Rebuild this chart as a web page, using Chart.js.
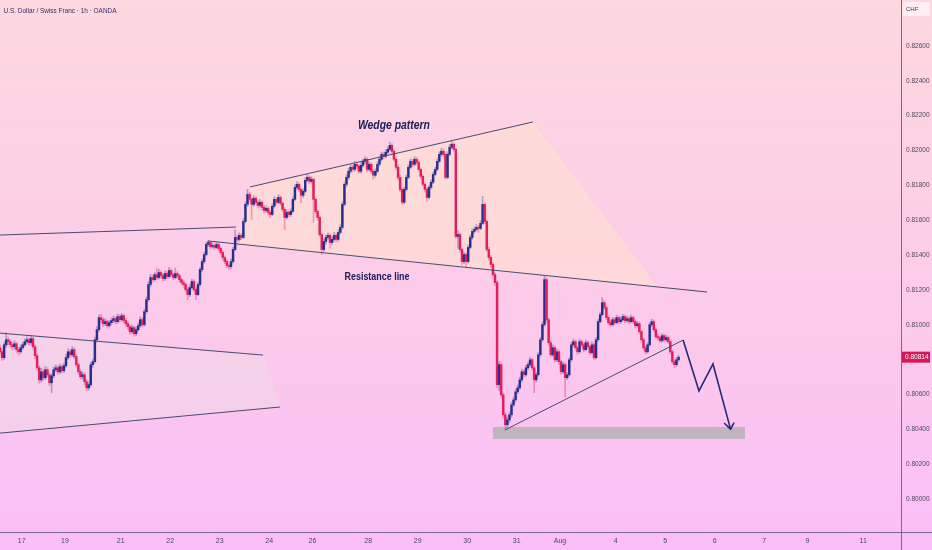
<!DOCTYPE html>
<html><head><meta charset="utf-8">
<script src="https://cdn.jsdelivr.net/npm/chart.js@4.4.1/dist/chart.umd.min.js"></script>
<style>
html,body{margin:0;padding:0;}
body{width:932px;height:550px;overflow:hidden;background:linear-gradient(to bottom,#fdd8e0 0%,#fccbe9 55%,#fbbef8 100%);}
canvas{display:block;}
</style></head><body>
<canvas id="c" width="932" height="550"></canvas>
<script>
// ---- USD/CHF 1h candles (bar index = hours from left edge) ----
const opens = [
0.80868,0.80845,0.80811,0.80885,0.80914,0.80903,0.80885,0.80874,0.80891,0.80857,
0.80845,0.80868,0.80885,0.80903,0.80914,0.80897,0.80920,0.80874,0.80822,0.80753,
0.80684,0.80730,0.80696,0.80742,0.80713,0.80667,0.80707,0.80742,0.80753,0.80730,
0.80759,0.80736,0.80765,0.80811,0.80845,0.80828,0.80857,0.80817,0.80771,0.80730,
0.80702,0.80713,0.80673,0.80638,0.80656,0.80771,0.80788,0.80914,0.80972,0.81041,
0.81029,0.81006,0.81018,0.80995,0.81012,0.81024,0.81035,0.81018,0.81047,0.81029,
0.81052,0.81024,0.81006,0.80989,0.80960,0.80983,0.80949,0.80972,0.80995,0.81029,
0.81001,0.81075,0.81144,0.81231,0.81271,0.81259,0.81288,0.81271,0.81300,0.81282,
0.81265,0.81294,0.81277,0.81311,0.81288,0.81271,0.81294,0.81282,0.81259,0.81242,
0.81231,0.81202,0.81173,0.81213,0.81248,0.81202,0.81173,0.81231,0.81317,0.81363,
0.81403,0.81461,0.81472,0.81449,0.81455,0.81444,0.81461,0.81438,0.81415,0.81386,
0.81363,0.81340,0.81334,0.81363,0.81432,0.81501,0.81490,0.81513,0.81501,0.81593,
0.81691,0.81748,0.81720,0.81691,0.81726,0.81703,0.81685,0.81703,0.81674,0.81656,
0.81668,0.81645,0.81633,0.81680,0.81720,0.81703,0.81731,0.81697,0.81662,0.81616,
0.81645,0.81633,0.81651,0.81720,0.81789,0.81806,0.81777,0.81743,0.81766,0.81829,
0.81846,0.81823,0.81835,0.81720,0.81651,0.81616,0.81518,0.81432,0.81478,0.81501,
0.81513,0.81472,0.81490,0.81513,0.81490,0.81530,0.81559,0.81691,0.81806,0.81846,
0.81881,0.81904,0.81892,0.81921,0.81910,0.81881,0.81915,0.81938,0.81950,0.81892,
0.81921,0.81881,0.81858,0.81881,0.81921,0.81950,0.81978,0.81967,0.81990,0.82007,
0.82030,0.81996,0.81950,0.81904,0.81846,0.81777,0.81703,0.81777,0.81846,0.81904,
0.81938,0.81921,0.81950,0.81932,0.81892,0.81852,0.81806,0.81777,0.81731,0.81789,
0.81818,0.81863,0.81892,0.81938,0.81978,0.81996,0.81978,0.81846,0.81978,0.82019,
0.82036,0.82007,0.81507,0.81518,0.81432,0.81363,0.81403,0.81363,0.81444,0.81501,
0.81536,0.81547,0.81559,0.81553,0.81582,0.81691,0.81593,0.81432,0.81386,0.81346,
0.81288,0.81242,0.80656,0.80771,0.80598,0.80483,0.80426,0.80454,0.80483,0.80540,
0.80569,0.80615,0.80638,0.80684,0.80730,0.80713,0.80753,0.80771,0.80799,0.80753,
0.80684,0.80713,0.80828,0.80914,0.81001,0.81259,0.81029,0.80897,0.80828,0.80868,
0.80799,0.80845,0.80788,0.80730,0.80771,0.80696,0.80713,0.80799,0.80885,0.80903,
0.80868,0.80845,0.80903,0.80885,0.80857,0.80897,0.80874,0.80840,0.80885,0.80811,
0.80914,0.81018,0.81058,0.81127,0.81098,0.81041,0.81012,0.81001,0.81029,0.81012,
0.81041,0.81018,0.81029,0.81047,0.81024,0.81035,0.81018,0.81041,0.81018,0.80995,
0.81006,0.80960,0.80914,0.80868,0.80845,0.80885,0.81001,0.81018,0.80972,0.80932,
0.80926,0.80909,0.80937,0.80914,0.80926,0.80903,0.80845,0.80788,0.80771,0.80799];
const highs = [
0.80885,0.80860,0.80900,0.80954,0.80930,0.80915,0.80898,0.80910,0.80900,0.80870,
0.80885,0.80898,0.80920,0.80932,0.80925,0.80940,0.80930,0.80885,0.80835,0.80765,
0.80750,0.80745,0.80760,0.80755,0.80725,0.80720,0.80758,0.80770,0.80765,0.80775,
0.80770,0.80780,0.80830,0.80862,0.80858,0.80875,0.80868,0.80828,0.80782,0.80745,
0.80730,0.80725,0.80685,0.80672,0.80785,0.80805,0.80930,0.80990,0.81058,0.81060,
0.81040,0.81035,0.81028,0.81025,0.81040,0.81052,0.81045,0.81062,0.81058,0.81066,
0.81060,0.81035,0.81018,0.81000,0.80998,0.80992,0.80988,0.81010,0.81045,0.81040,
0.81090,0.81160,0.81248,0.81290,0.81285,0.81300,0.81325,0.81318,0.81310,0.81295,
0.81310,0.81305,0.81330,0.81320,0.81298,0.81325,0.81305,0.81292,0.81268,0.81255,
0.81240,0.81212,0.81228,0.81262,0.81258,0.81215,0.81245,0.81330,0.81378,0.81418,
0.81475,0.81484,0.81480,0.81470,0.81465,0.81475,0.81470,0.81448,0.81425,0.81395,
0.81372,0.81350,0.81378,0.81445,0.81545,0.81515,0.81528,0.81525,0.81610,0.81705,
0.81777,0.81762,0.81730,0.81742,0.81735,0.81715,0.81720,0.81712,0.81685,0.81682,
0.81678,0.81655,0.81695,0.81735,0.81730,0.81748,0.81740,0.81705,0.81672,0.81660,
0.81655,0.81665,0.81735,0.81805,0.81822,0.81815,0.81785,0.81780,0.81845,0.81862,
0.81855,0.81850,0.81842,0.81730,0.81662,0.81625,0.81528,0.81492,0.81515,0.81528,
0.81522,0.81505,0.81530,0.81522,0.81545,0.81575,0.81705,0.81820,0.81862,0.81898,
0.81920,0.81915,0.81938,0.81930,0.81920,0.81930,0.81952,0.81965,0.81960,0.81935,
0.81930,0.81890,0.81895,0.81935,0.81965,0.81992,0.81990,0.82005,0.82022,0.82048,
0.82040,0.82005,0.81960,0.81915,0.81858,0.81785,0.81790,0.81860,0.81918,0.81952,
0.81948,0.81966,0.81960,0.81942,0.81900,0.81862,0.81815,0.81788,0.81802,0.81832,
0.81878,0.81905,0.81952,0.81992,0.82012,0.82008,0.81988,0.81992,0.82035,0.82053,
0.82045,0.82015,0.81540,0.81528,0.81440,0.81418,0.81412,0.81458,0.81515,0.81550,
0.81562,0.81575,0.81570,0.81598,0.81737,0.81700,0.81602,0.81445,0.81398,0.81356,
0.81300,0.81252,0.80790,0.80780,0.80610,0.80495,0.80470,0.80498,0.80555,0.80585,
0.80630,0.80655,0.80700,0.80745,0.80742,0.80768,0.80786,0.80815,0.80808,0.80765,
0.80728,0.80842,0.80928,0.81018,0.81282,0.81270,0.81040,0.80910,0.80885,0.80878,
0.80860,0.80855,0.80798,0.80785,0.80782,0.80728,0.80812,0.80900,0.80918,0.80912,
0.80878,0.80918,0.80912,0.80895,0.80912,0.80905,0.80882,0.80900,0.80895,0.80928,
0.81032,0.81072,0.81156,0.81140,0.81108,0.81052,0.81025,0.81042,0.81040,0.81055,
0.81050,0.81045,0.81060,0.81056,0.81050,0.81045,0.81055,0.81050,0.81028,0.81020,
0.81015,0.80970,0.80925,0.80878,0.80898,0.81015,0.81032,0.81028,0.80982,0.80945,
0.80935,0.80950,0.80945,0.80940,0.80935,0.80912,0.80855,0.80798,0.80812,0.80825];
const lows = [
0.80830,0.80795,0.80800,0.80870,0.80885,0.80870,0.80855,0.80862,0.80840,0.80826,
0.80835,0.80858,0.80875,0.80890,0.80880,0.80885,0.80860,0.80805,0.80740,0.80665,
0.80670,0.80680,0.80685,0.80700,0.80650,0.80610,0.80695,0.80730,0.80715,0.80720,
0.80722,0.80725,0.80755,0.80800,0.80815,0.80818,0.80805,0.80758,0.80715,0.80690,
0.80688,0.80655,0.80621,0.80625,0.80645,0.80755,0.80780,0.80900,0.80960,0.81010,
0.80990,0.80995,0.80980,0.80985,0.81000,0.81012,0.81005,0.81008,0.81015,0.81020,
0.81010,0.80992,0.80975,0.80945,0.80950,0.80935,0.80938,0.80962,0.80985,0.80990,
0.80990,0.81065,0.81135,0.81220,0.81245,0.81250,0.81260,0.81262,0.81270,0.81252,
0.81255,0.81265,0.81268,0.81275,0.81258,0.81262,0.81268,0.81245,0.81228,0.81215,
0.81188,0.81144,0.81162,0.81205,0.81190,0.81144,0.81165,0.81222,0.81305,0.81352,
0.81395,0.81450,0.81438,0.81440,0.81430,0.81435,0.81425,0.81402,0.81372,0.81350,
0.81325,0.81318,0.81320,0.81355,0.81425,0.81478,0.81480,0.81488,0.81495,0.81585,
0.81680,0.81705,0.81605,0.81680,0.81690,0.81672,0.81675,0.81660,0.81642,0.81645,
0.81630,0.81616,0.81625,0.81670,0.81690,0.81695,0.81685,0.81650,0.81547,0.81605,
0.81620,0.81622,0.81645,0.81712,0.81778,0.81765,0.81700,0.81730,0.81758,0.81820,
0.81810,0.81812,0.81588,0.81638,0.81600,0.81505,0.81403,0.81420,0.81462,0.81490,
0.81440,0.81458,0.81480,0.81475,0.81478,0.81520,0.81550,0.81682,0.81795,0.81835,
0.81870,0.81878,0.81882,0.81898,0.81868,0.81870,0.81905,0.81925,0.81878,0.81882,
0.81868,0.81835,0.81848,0.81872,0.81912,0.81940,0.81952,0.81958,0.81980,0.81998,
0.81985,0.81938,0.81890,0.81832,0.81762,0.81691,0.81695,0.81768,0.81838,0.81895,
0.81908,0.81912,0.81920,0.81880,0.81840,0.81795,0.81762,0.81708,0.81722,0.81780,
0.81810,0.81855,0.81885,0.81930,0.81968,0.81965,0.81835,0.81838,0.81970,0.82010,
0.81995,0.81495,0.81440,0.81415,0.81345,0.81350,0.81329,0.81355,0.81435,0.81490,
0.81525,0.81538,0.81530,0.81545,0.81575,0.81580,0.81420,0.81372,0.81330,0.81275,
0.81225,0.80640,0.80620,0.80585,0.80465,0.80397,0.80410,0.80440,0.80470,0.80530,
0.80560,0.80605,0.80628,0.80672,0.80700,0.80705,0.80742,0.80760,0.80740,0.80610,
0.80672,0.80705,0.80818,0.80905,0.80990,0.81015,0.80882,0.80815,0.80818,0.80785,
0.80790,0.80772,0.80715,0.80720,0.80587,0.80685,0.80705,0.80790,0.80875,0.80855,
0.80830,0.80838,0.80872,0.80845,0.80850,0.80860,0.80828,0.80832,0.80798,0.80802,
0.80905,0.81010,0.81050,0.81085,0.81030,0.81000,0.80988,0.80992,0.81000,0.81005,
0.81008,0.81008,0.81020,0.81012,0.81015,0.81005,0.81010,0.81006,0.80982,0.80985,
0.80948,0.80900,0.80855,0.80832,0.80838,0.80878,0.80990,0.80960,0.80920,0.80912,
0.80898,0.80900,0.80902,0.80905,0.80892,0.80832,0.80775,0.80753,0.80762,0.80790];
const closes = [
0.80845,0.80811,0.80885,0.80914,0.80903,0.80885,0.80874,0.80891,0.80857,0.80845,
0.80868,0.80885,0.80903,0.80914,0.80897,0.80920,0.80874,0.80822,0.80753,0.80684,
0.80730,0.80696,0.80742,0.80713,0.80667,0.80707,0.80742,0.80753,0.80730,0.80759,
0.80736,0.80765,0.80811,0.80845,0.80828,0.80857,0.80817,0.80771,0.80730,0.80702,
0.80713,0.80673,0.80638,0.80656,0.80771,0.80788,0.80914,0.80972,0.81041,0.81029,
0.81006,0.81018,0.80995,0.81012,0.81024,0.81035,0.81018,0.81047,0.81029,0.81052,
0.81024,0.81006,0.80989,0.80960,0.80983,0.80949,0.80972,0.80995,0.81029,0.81001,
0.81075,0.81144,0.81231,0.81271,0.81259,0.81288,0.81271,0.81300,0.81282,0.81265,
0.81294,0.81277,0.81311,0.81288,0.81271,0.81294,0.81282,0.81259,0.81242,0.81231,
0.81202,0.81173,0.81213,0.81248,0.81202,0.81173,0.81231,0.81317,0.81363,0.81403,
0.81461,0.81472,0.81449,0.81455,0.81444,0.81461,0.81438,0.81415,0.81386,0.81363,
0.81340,0.81334,0.81363,0.81432,0.81501,0.81490,0.81513,0.81501,0.81593,0.81691,
0.81748,0.81720,0.81691,0.81726,0.81703,0.81685,0.81703,0.81674,0.81656,0.81668,
0.81645,0.81633,0.81680,0.81720,0.81703,0.81731,0.81697,0.81662,0.81616,0.81645,
0.81633,0.81651,0.81720,0.81789,0.81806,0.81777,0.81743,0.81766,0.81829,0.81846,
0.81823,0.81835,0.81720,0.81651,0.81616,0.81518,0.81432,0.81478,0.81501,0.81513,
0.81472,0.81490,0.81513,0.81490,0.81530,0.81559,0.81691,0.81806,0.81846,0.81881,
0.81904,0.81892,0.81921,0.81910,0.81881,0.81915,0.81938,0.81950,0.81892,0.81921,
0.81881,0.81858,0.81881,0.81921,0.81950,0.81978,0.81967,0.81990,0.82007,0.82030,
0.81996,0.81950,0.81904,0.81846,0.81777,0.81703,0.81777,0.81846,0.81904,0.81938,
0.81921,0.81950,0.81932,0.81892,0.81852,0.81806,0.81777,0.81731,0.81789,0.81818,
0.81863,0.81892,0.81938,0.81978,0.81996,0.81978,0.81846,0.81978,0.82019,0.82036,
0.82007,0.81507,0.81518,0.81432,0.81363,0.81403,0.81363,0.81444,0.81501,0.81536,
0.81547,0.81559,0.81553,0.81582,0.81691,0.81593,0.81432,0.81386,0.81346,0.81288,
0.81242,0.80656,0.80771,0.80598,0.80483,0.80426,0.80454,0.80483,0.80540,0.80569,
0.80615,0.80638,0.80684,0.80730,0.80713,0.80753,0.80771,0.80799,0.80753,0.80684,
0.80713,0.80828,0.80914,0.81001,0.81259,0.81029,0.80897,0.80828,0.80868,0.80799,
0.80845,0.80788,0.80730,0.80771,0.80696,0.80713,0.80799,0.80885,0.80903,0.80868,
0.80845,0.80903,0.80885,0.80857,0.80897,0.80874,0.80840,0.80885,0.80811,0.80914,
0.81018,0.81058,0.81127,0.81098,0.81041,0.81012,0.81001,0.81029,0.81012,0.81041,
0.81018,0.81029,0.81047,0.81024,0.81035,0.81018,0.81041,0.81018,0.80995,0.81006,
0.80960,0.80914,0.80868,0.80845,0.80885,0.81001,0.81018,0.80972,0.80932,0.80926,
0.80909,0.80937,0.80914,0.80926,0.80903,0.80845,0.80788,0.80771,0.80799,0.80814];

// ---- axis ticks ----
const dateTickBars   = [10.5,31.5,58.5,82.5,106.5,130.5,151.5,178.5,202.5,226.5,250.5,271.5,298.5,322.5,346.5,370.5,391.5,418.5];
const dateTickLabels = ['17','19','21','22','23','24','26','28','29','30','31','Aug','4','5','6','7','9','11'];
const priceTicks = [0.800,0.802,0.804,0.806,0.808,0.810,0.812,0.814,0.816,0.818,0.820,0.822,0.824,0.826];

// ---- drawings: [bar, price] ----
const channelZone    = [[0,0.80952],[127.5,0.80826],[135.8,0.80528],[0,0.80378]];
const channelTop     = [[0,0.80952],[127.5,0.80826]];
const channelBottom  = [[0,0.80378],[135.8,0.80528]];
const oldResistance  = [[0,0.81515],[114.4,0.81561]];
const wedgeZone      = [[121.2,0.81791],[258.4,0.82164],[319.0,0.81217],[115.4,0.81458]];
const wedgeTop       = [[121.2,0.81791],[258.4,0.82164]];
const resistanceLine = [[100.8,0.81481],[342.8,0.81188]];
const supportLine    = [[244.8,0.80396],[331.2,0.80912]];
const forecastPath   = [[331.2,0.80912],[338.9,0.80620],[345.7,0.80775],[354.2,0.80401]];
const arrowHead      = [[351.1,0.80436],[354.2,0.80401],[355.9,0.80439]];
const targetZone     = [[239.0,0.80413],[361.2,0.80413],[361.2,0.80344],[239.0,0.80344]];
const wedgeLabelPos  = [191.0,0.82141];
const resistLabelPos = [182.8,0.81274];
const titleText  = 'U.S. Dollar / Swiss Franc · 1h · OANDA';
const wedgeText  = 'Wedge pattern';
const resistText = 'Resistance line';
const currencyText = 'CHF';

const FONT = "'Liberation Sans',Arial,sans-serif";
const BULL = 'rgb(40,46,140)', BEAR = 'rgb(226,30,94)';
const BULLW = 'rgba(60,62,150,0.38)', BEARW = 'rgba(226,40,100,0.38)';
const LINE = 'rgb(72,74,112)';
const up = i => closes[i] >= opens[i];

function pts(a){ return a.map(p => ({x:p[0], y:p[1]})); }
function lineDs(a, extra){
  return Object.assign({type:'line', data:pts(a), borderColor:LINE, borderWidth:1, pointRadius:0,
    pointHoverRadius:0, fill:false, tension:0, order:1}, extra||{});
}
// draw text horizontally condensed to a target width (keeps it real text)
function condensedText(ctx, txt, cx, cy, targetW){
  const w = ctx.measureText(txt).width;
  const k = Math.min(1, targetW / w);
  ctx.save(); ctx.translate(cx, cy); ctx.scale(k, 1);
  ctx.fillText(txt, 0, 0); ctx.restore();
}

const deco = {
  id:'deco',
  afterDatasetsDraw(chart){
    const {ctx, scales:{x,y}} = chart;
    ctx.save();
    ctx.fillStyle = 'rgb(28,32,96)';
    ctx.textAlign = 'center'; ctx.textBaseline = 'middle';
    ctx.font = 'italic bold 12px ' + FONT;
    condensedText(ctx, wedgeText, x.getPixelForValue(wedgeLabelPos[0]), y.getPixelForValue(wedgeLabelPos[1]), 72);
    ctx.font = 'bold 11px ' + FONT;
    condensedText(ctx, resistText, x.getPixelForValue(resistLabelPos[0]), y.getPixelForValue(resistLabelPos[1]), 65);
    ctx.restore();
  },
  afterDraw(chart){
    const {ctx, chartArea:a, scales:{y}} = chart;
    const W = chart.width, H = chart.height;
    ctx.save();
    ctx.strokeStyle = 'rgba(105,92,135,0.9)'; ctx.lineWidth = 1;
    ctx.beginPath();
    ctx.moveTo(0, a.bottom + 0.5); ctx.lineTo(W, a.bottom + 0.5);
    ctx.moveTo(a.right + 0.5, 0); ctx.lineTo(a.right + 0.5, H);
    ctx.stroke();
    // title
    ctx.fillStyle = 'rgb(52,46,104)';
    ctx.font = '7.5px ' + FONT; ctx.textAlign = 'left'; ctx.textBaseline = 'middle';
    ctx.save(); ctx.translate(3.5, 10.5);
    ctx.scale(Math.min(1, 113 / ctx.measureText(titleText).width), 1);
    ctx.fillText(titleText, 0, 0); ctx.restore();
    // currency box
    ctx.fillStyle = 'rgba(255,242,246,0.9)';
    ctx.fillRect(a.right + 2, 2, 27, 14);
    ctx.fillStyle = 'rgb(60,60,80)'; ctx.font = '6px ' + FONT; ctx.textAlign = 'left';
    ctx.fillText(currencyText, a.right + 5, 9.5);
    // last price tag
    const last = closes[closes.length - 1];
    const py = y.getPixelForValue(last);
    ctx.fillStyle = 'rgb(212,24,88)';
    ctx.fillRect(a.right + 1, py - 5.5, 28, 11);
    ctx.fillStyle = '#fff'; ctx.font = '6.5px ' + FONT; ctx.textAlign = 'left';
    ctx.fillText(last.toFixed(5), a.right + 4, py + 0.5);
    ctx.restore();
  }
};

new Chart(document.getElementById('c'), {
  type:'bar',
  data:{ datasets:[
    lineDs(wedgeZone,   {fill:'shape', backgroundColor:'rgba(255,226,205,0.55)', borderWidth:0, borderColor:'rgba(0,0,0,0)', order:30}),
    lineDs(channelZone, {fill:'shape', backgroundColor:'rgba(238,216,232,0.55)', borderWidth:0, borderColor:'rgba(0,0,0,0)', order:29}),
    lineDs(targetZone,  {fill:'shape', backgroundColor:'rgb(191,181,187)', borderWidth:0, borderColor:'rgba(0,0,0,0)', order:28}),
    { type:'bar', data: lows.map((l,i)=>({x:i, y:[l, highs[i]]})), barThickness:1, grouped:false,
      backgroundColor: c => up(c.dataIndex) ? BULLW : BEARW, borderWidth:0, order:6 },
    { type:'bar', data: opens.map((o,i)=>({x:i, y:[o, closes[i]]})), barThickness:1.8, grouped:false,
      backgroundColor: c => up(c.dataIndex) ? BULL : BEAR, borderWidth:0, order:5 },
    lineDs(channelTop), lineDs(channelBottom), lineDs(oldResistance),
    lineDs(wedgeTop), lineDs(resistanceLine), lineDs(supportLine),
    lineDs(forecastPath, {borderColor:'rgb(34,44,118)', borderWidth:1.6}),
    lineDs(arrowHead,    {borderColor:'rgb(34,44,118)', borderWidth:1.6})
  ]},
  options:{
    responsive:false, animation:false, events:[],
    layout:{padding:0},
    plugins:{legend:{display:false}, tooltip:{enabled:false}, title:{display:false}},
    scales:{
      x:{ type:'linear', min:0, max:436.85, offset:false, position:'bottom',
        afterBuildTicks: s => { s.ticks = dateTickBars.map(v => ({value:v})); },
        afterFit: s => { s.height = 18; s.paddingLeft = 0; s.paddingRight = 0; },
        grid:{display:false, drawTicks:false}, border:{display:false},
        ticks:{ autoSkip:false, maxRotation:0, padding:5, color:'rgb(74,72,92)',
          font:{family:FONT, size:7}, callback:(v,i) => dateTickLabels[i] } },
      y:{ type:'linear', position:'right', min:0.7981056, max:0.8286406,
        afterBuildTicks: s => { s.ticks = priceTicks.map(v => ({value:v})); },
        afterFit: s => { s.width = 31; s.paddingTop = 0; s.paddingBottom = 0; },
        grid:{display:false, drawTicks:false}, border:{display:false},
        ticks:{ padding:5, color:'rgb(74,72,92)', font:{family:FONT, size:6.5},
          callback: v => Number(v).toFixed(5) } }
    }
  },
  plugins:[deco]
});
</script>
</body></html>
